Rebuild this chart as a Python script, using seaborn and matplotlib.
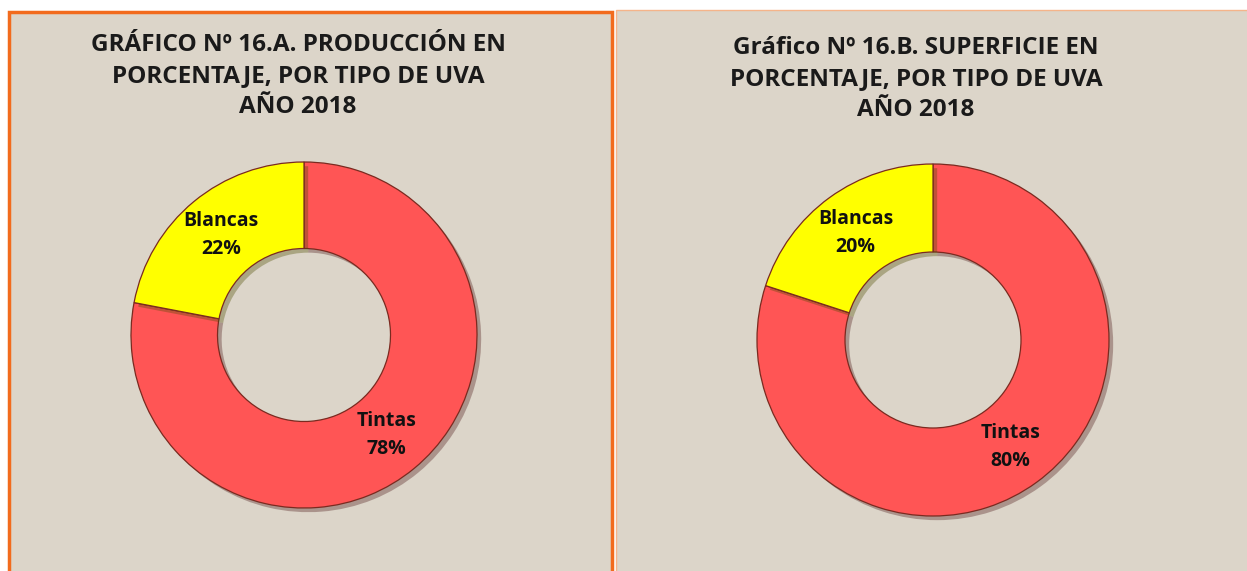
import matplotlib
matplotlib.use("Agg")
import matplotlib.pyplot as plt
import seaborn as sns
import numpy as np
from matplotlib.patches import Rectangle
import matplotlib.patheffects as pe

# ---- data ----
categories = ["Tintas", "Blancas"]
produccion = [78, 22]
superficie = [80, 20]
titles = ["GRÁFICO Nº 16.A. PRODUCCIÓN EN\nPORCENTAJE, POR TIPO DE UVA\nAÑO 2018",
          "Gráfico Nº 16.B. SUPERFICIE EN\nPORCENTAJE, POR TIPO DE UVA\nAÑO 2018"]

sns.set_theme(style="white")
plt.rcParams['font.family'] = ['Open Sans', 'DejaVu Sans']

W, H = 1247, 571
fig = plt.figure(figsize=(W / 100, H / 100), dpi=100)
fig.patch.set_facecolor("white")

bg = "#DCD5C9"
colors = ["#FF5555", "#FFFF00"]

def fx(px):
    return px / W

def fy(py):
    return 1 - py / H

# panels
fig.patches.append(Rectangle((fx(9), -0.02), fx(603), fy(12) + 0.02, transform=fig.transFigure,
                             facecolor=bg, edgecolor="#F26B1D", linewidth=2.5, zorder=-5))
fig.patches.append(Rectangle((fx(616), -0.02), fx(640), fy(10) + 0.02, transform=fig.transFigure,
                             facecolor=bg, edgecolor="#F5B48A", linewidth=1.0, zorder=-6))

def donut(cx, cy, R, values, title, tx, ty):
    ax = fig.add_axes([fx(cx - R), fy(cy + R), 2 * R / W, 2 * R / H])
    ax.set_zorder(5)
    ax.patch.set_alpha(0)
    wedges, _ = ax.pie(values, colors=colors, startangle=90, counterclock=False,
                       radius=1.0, wedgeprops=dict(width=0.5, edgecolor="#7A2A20",
                                                   linewidth=0.9))
    for w in wedges:
        w.set_path_effects([pe.SimplePatchShadow(offset=(3, -3), alpha=0.35),
                            pe.Normal()])
    for w, name, v in zip(wedges, categories, values):
        mid = np.deg2rad((w.theta1 + w.theta2) / 2)
        ax.text(0.75 * np.cos(mid), 0.75 * np.sin(mid), f"{name}\n{v}%",
                ha="center", va="center", fontsize=14, fontweight="bold",
                color="#111111", linespacing=1.55)
    ax.set_xlim(-1, 1)
    ax.set_ylim(-1, 1)
    ax.axis("off")
    fig.text(fx(tx), fy(ty), title, ha="center", va="center", fontsize=17.5,
             fontweight="bold", color="#1a1a1a", linespacing=1.38)

donut(304, 335, 173, produccion, titles[0], 298, 76)
donut(933, 340, 176, superficie, titles[1], 916, 79)

fig.savefig("out.png", dpi=100)
